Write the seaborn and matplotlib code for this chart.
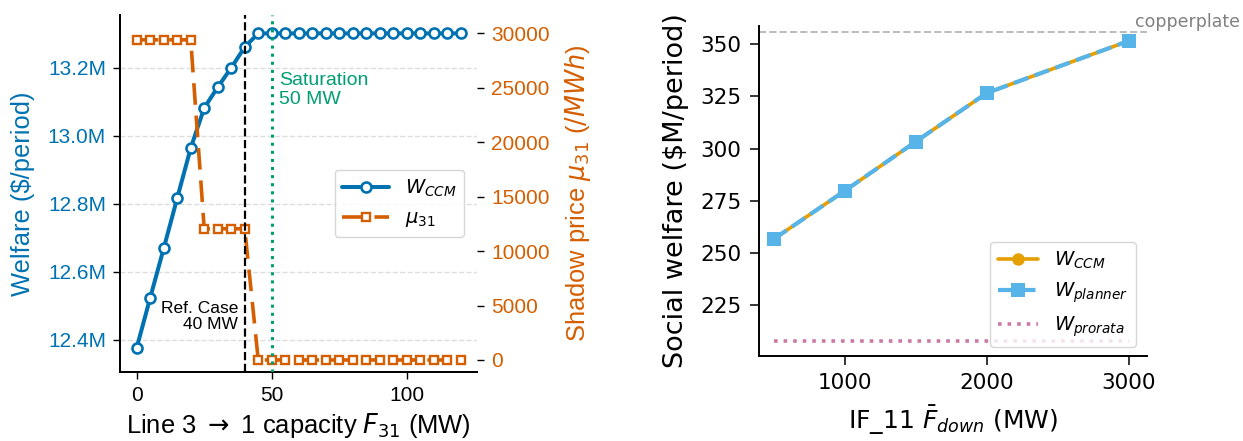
import numpy as np
import pandas as pd
import matplotlib as mpl
mpl.use("Agg")
import matplotlib.pyplot as plt
import seaborn as sns

# left panel: welfare and shadow price vs line capacity
capacity = [0, 5, 10, 15, 20, 25, 30, 35, 40, 45, 50, 55, 60, 65, 70, 75, 80, 85,
            90, 95, 100, 105, 110, 115, 120]
welfare_m = [12.377, 12.524, 12.669, 12.817, 12.964, 13.082, 13.143, 13.200, 13.261,
             13.301, 13.301, 13.301, 13.301, 13.301, 13.301, 13.301, 13.301, 13.301,
             13.301, 13.301, 13.301, 13.301, 13.301, 13.301, 13.301]
shadow_price = [29400, 29400, 29400, 29400, 29400, 12050, 12050, 12050, 12050,
                0, 0, 0, 0, 0, 0, 0, 0, 0, 0, 0, 0, 0, 0, 0, 0]
ref_case = 40
saturation = 50
left_yticks = [12.4, 12.6, 12.8, 13.0, 13.2]

# right panel: social welfare vs IF_11 limit
f_down = [500, 1000, 1500, 2000, 3000]
w_ccm = [256.6, 279.7, 303.3, 326.6, 351.6]
w_planner = [256.6, 279.7, 303.3, 326.6, 351.6]
w_prorata = [207.7, 207.7, 207.7, 207.7, 207.7]
copperplate = 355.7

BLUE = "#0072B2"
VERM = "#D55E00"
GREEN = "#009E73"
ORANGE = "#E69F00"
SKY = "#56B4E9"
PINK = "#CC79A7"

sns.set_style("ticks")
plt.rcParams["font.family"] = ["DejaVu Sans"]
plt.rcParams["mathtext.fontset"] = "dejavusans"
plt.rcParams.update({"text.color": "black", "axes.labelcolor": "black",
                     "xtick.color": "black", "ytick.color": "black",
                     "axes.edgecolor": "black"})

fig = plt.figure(figsize=(12.43, 4.41), dpi=100)
ax = fig.add_axes([0.0965, 0.1558, 0.2873, 0.8109])
ax2 = ax.twinx()
axr = fig.add_axes([0.6104, 0.1927, 0.3121, 0.7490])

left_font = "Liberation Sans"

# ---- left panel
sns.lineplot(x=capacity, y=welfare_m, ax=ax, color=BLUE, lw=2.9, marker="o", ms=7.2,
             markerfacecolor="white", markeredgecolor=BLUE, markeredgewidth=1.9,
             label=r"$W_{CCM}$", legend=False)
sns.lineplot(x=capacity, y=shadow_price, ax=ax2, color=VERM, lw=2.6, marker="s", ms=5.6,
             markerfacecolor="white", markeredgecolor=VERM, markeredgewidth=1.7,
             linestyle=(0, (6, 3)), label=r"$\mu_{31}$", legend=False)
ax2.axvline(ref_case, color="black", lw=1.6, ls="--", zorder=4)
ax2.axvline(saturation, color=GREEN, lw=2.2, ls=":", zorder=4)

ax.set_xlim(-6.2, 126)
ax.set_ylim(12.305, 13.356)
ax2.set_ylim(-1130, 31708)
ax.set_xticks([0, 50, 100])
ax.set_yticks(left_yticks)
ax.set_yticklabels([f"{v:.1f}M" for v in left_yticks])
ax2.set_yticks(np.arange(0, 30001, 5000))
ax.grid(axis="y", color="#dddddd", ls="--", lw=1.0)

for a in (ax, ax2):
    a.spines["top"].set_visible(False)
    a.spines["right"].set_visible(False)
    for s in a.spines.values():
        s.set_linewidth(1.3)
    a.tick_params(length=5, width=1.0, labelsize=15, pad=5)
    for lab in a.get_xticklabels() + a.get_yticklabels():
        lab.set_fontfamily(left_font)
for lab in ax.get_yticklabels():
    lab.set_color(BLUE)
for lab in ax2.get_yticklabels():
    lab.set_color(VERM)

ax.set_xlabel(r"Line 3 $\rightarrow$ 1 capacity $F_{31}$ (MW)", fontsize=18.4,
              fontfamily=left_font, labelpad=4)
ax.set_ylabel("Welfare ($/period)", fontsize=18.4, fontfamily=left_font, color=BLUE,
              labelpad=9)
ax2.set_ylabel(r"Shadow price $\mu_{31}$ ($/MWh$)", fontsize=18.4, fontfamily=left_font,
               color=VERM, labelpad=10)

ax.text(37.6, 12.47, "Ref. Case\n40 MW", ha="right", va="center", fontsize=12.5,
        fontfamily=left_font, linespacing=1.1)
ax.text(52.6, 13.135, "Saturation\n50 MW", ha="left", va="center", fontsize=14,
        fontfamily=left_font, color=GREEN)

h1, l1 = ax.get_legend_handles_labels()
h2, l2 = ax2.get_legend_handles_labels()
leg = ax2.legend(h1 + h2, l1 + l2, loc="lower right", bbox_to_anchor=(0.9636, 0.378),
                 borderaxespad=0, fontsize=14, handlelength=2.4, framealpha=0.8)

# ---- right panel
sns.lineplot(x=f_down, y=w_ccm, ax=axr, color=ORANGE, lw=2.6, marker="o", ms=9,
             markeredgecolor=ORANGE, markeredgewidth=0, label=r"$W_{CCM}$")
sns.lineplot(x=f_down, y=w_planner, ax=axr, color=SKY, lw=3.0, marker="s", ms=9.5,
             markeredgecolor=SKY, markeredgewidth=0, linestyle="--", label=r"$W_{planner}$")
sns.lineplot(x=f_down, y=w_prorata, ax=axr, color=PINK, lw=2.6, linestyle=":",
             label=r"$W_{prorata}$")
axr.axhline(copperplate, color="#bbbbbb", lw=1.4, ls="--", zorder=1)
axr.text(3044, copperplate + 0.6, "copperplate", ha="left", va="bottom", fontsize=12.5,
         color="gray")

axr.set_xlim(394, 3127)
axr.set_ylim(200.5, 358.9)
axr.set_xticks([1000, 2000, 3000])
axr.set_yticks([225, 250, 275, 300, 325, 350])
axr.spines["top"].set_visible(False)
axr.spines["right"].set_visible(False)
for s in axr.spines.values():
    s.set_linewidth(1.4)
axr.tick_params(length=6.3, width=1.1, labelsize=15.5, pad=6)
axr.set_xlabel(r"IF_11 $\bar{F}_{down}$ (MW)", fontsize=18, labelpad=8)
axr.set_ylabel("Social welfare ($M/period)", fontsize=19.5, labelpad=8)
axr.legend(loc="lower right", bbox_to_anchor=(0.972, 0.027), borderaxespad=0,
           fontsize=14, handlelength=2.1, framealpha=0.8)

fig.savefig("out.png", dpi=100)
